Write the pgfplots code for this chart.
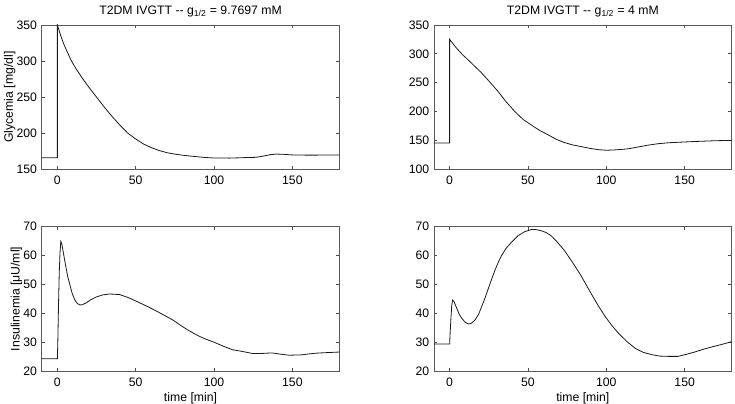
\documentclass[border=0pt]{standalone}
\usepackage{fontspec}
\setmainfont{Liberation Sans}
\usepackage{pgfplots}
\pgfplotsset{compat=1.18}

\pgfplotsset{
  mpanel/.style={
    scale only axis, width=223.5pt, height=108.4pt,
    xmin=-10, xmax=180, xtick={0,50,100,150},
    tick align=inside, xtick pos=both, ytick pos=both,
    major tick length=2.6pt,
    axis line style={black!65, line width=0.6pt},
    tick style={black!70, line width=0.5pt},
    /pgf/number format/assume math mode=true,
    ticklabel style={font=\fontsize{9.2}{11}\selectfont},
    xticklabel style={yshift=-1.5pt},
    label style={font=\fontsize{9.2}{11}\selectfont},
    xlabel style={yshift=2pt},
    ylabel shift=-6pt,
    title style={font=\fontsize{9.2}{11}\selectfont, yshift=-3.5pt},
  },
  curve/.style={black!90, line width=0.6pt, mark=none},
}

\begin{document}
\begin{tikzpicture}
\useasboundingbox (-31.3pt,-24.2pt) rectangle (520.5pt,278.6pt);

% glycemia, g_1/2 = 9.7697
\begin{axis}[mpanel, at={(0pt,151.5pt)}, anchor=south west,
  ymin=150, ymax=350, ytick={150,200,250,300,350},
  ylabel={Glycemia [mg/dl]},
  title={T2DM IVGTT {-}{-} g\textsubscript{1/2} = 9.7697 mM}]
\addplot[curve] coordinates {
 (-10,166) (0,166) (0,350) (1,343) (2,336) (3,330) (4,324) (6,314) (9,300)
 (12,289) (16,276) (20,264) (25,250) (30,236) (35,223) (40,211) (45,200)
 (50,192) (55,185) (60,180) (65,176) (70,173) (75,171) (80,169.5) (85,168.3)
 (90,167.2) (95,166.3) (100,165.6) (110,165.5) (120,166.2) (127,166.6)
 (132,168.5) (136,170.3) (140,171.1) (144,170.8) (150,169.9) (160,169.6)
 (170,169.7) (180,169.8)};
\end{axis}

% glycemia, g_1/2 = 4
\begin{axis}[mpanel, at={(294.5pt,151.5pt)}, anchor=south west,
  ymin=100, ymax=350, ytick={100,150,200,250,300,350},
  title={T2DM IVGTT {-}{-} g\textsubscript{1/2} = 4 mM}]
\addplot[curve] coordinates {
 (-10,145.5) (0,145.5) (0,325) (2,318) (4,311) (6,305) (8,299) (10,294)
 (15,281) (20,268) (25,253) (31,234.5) (36,217) (41.6,200) (47,186) (52,177)
 (57,168) (62.6,160) (68,152) (73,146.6) (78,142.5) (83.6,139.5) (90,136)
 (95,134) (100,133) (105,133.5) (110,134.5) (114,135.5) (120,138.5)
 (126,141.5) (133,144.3) (140,146) (149,147.2) (160,148.5) (170,149.5)
 (180,150)};
\end{axis}

% insulinemia, g_1/2 = 9.7697
\begin{axis}[mpanel, at={(0pt,0pt)}, anchor=south west,
  ymin=20, ymax=70, ytick={20,30,40,50,60,70},
  ylabel={Insulinemia [μU/ml]}, xlabel={time [min]}]
\addplot[curve] coordinates {
 (-10,24.3) (0,24.3) (0.3,30) (0.7,42) (1.2,54) (1.7,61) (2.2,64.9)
 (2.8,64.2) (3.5,62) (4.9,57.7) (6.5,53) (8.1,49.7) (9.5,46.8) (11.2,44.6)
 (12.8,43.4) (14.4,42.9) (16,43) (18.7,43.7) (21,44.6) (25,45.7) (29,46.4)
 (33.5,46.7) (39.8,46.5) (45,45.5) (50.4,44.2) (57,42.5) (63.2,40.8)
 (68,39.4) (73.7,37.7) (79,35.7) (84.3,33.9) (90,32.2) (95,31) (100,30)
 (106,28.6) (111.8,27.4) (116,27) (120,26.6) (124.5,26.1) (130,26.1)
 (137,26.3) (142,25.9) (148,25.5) (155,25.6) (165,26.2) (172,26.4)
 (180,26.6)};
\end{axis}

% insulinemia, g_1/2 = 4
\begin{axis}[mpanel, at={(294.5pt,0pt)}, anchor=south west,
  ymin=20, ymax=70, ytick={20,30,40,50,60,70},
  xlabel={time [min]}]
\addplot[curve] coordinates {
 (-10,29.4) (0,29.4) (0.3,33) (0.8,38) (1.3,42.5) (1.9,44.6) (2.8,44)
 (4.6,41.7) (6,39.8) (7.8,38.2) (10,36.9) (12,36.3) (14,36.6) (16.2,37.7)
 (18.5,39.7) (20.4,42.3) (22.5,45.2) (24.7,48.6) (26.8,51.8) (28.9,54.9)
 (31,57.6) (33.1,60) (36,62.5) (39.4,64.6) (43.7,66.9) (48,68.3) (52.1,69)
 (55,69) (58.4,68.6) (61.5,68) (64.7,66.9) (68.5,64.8) (73.2,61.8) (78,58)
 (83.7,53.2) (87,50) (90.9,46.3) (95,42.5) (99.4,38.8) (103.5,35.8)
 (107.8,33.1) (113,30.3) (118.4,27.9) (123.5,26.5) (128.9,25.7) (134,25.2)
 (139.5,25.1) (145.8,25.1) (151,25.8) (156.4,26.6) (161,27.4) (166.9,28.3)
 (172,29) (177.5,29.8) (180,30.2)};
\end{axis}
\end{tikzpicture}
\end{document}
